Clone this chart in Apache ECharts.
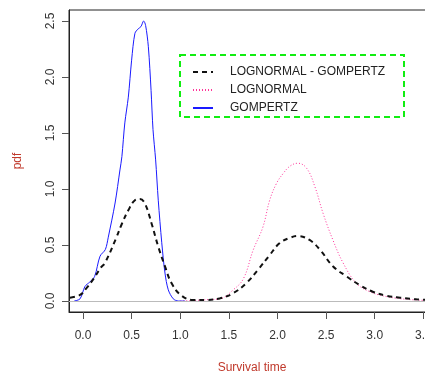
<!DOCTYPE html>
<html>
<head>
<meta charset="utf-8">
<script src="https://cdn.jsdelivr.net/npm/echarts@6/dist/echarts.min.js"></script>
<style>
  html, body { margin: 0; padding: 0; background: #fff; }
  #chart { width: 425px; height: 373px; }
</style>
</head>
<body>
<div id="chart"></div>
<script>
// Density estimates of survival time
const seriesNames = ['LOGNORMAL - GOMPERTZ', 'LOGNORMAL', 'GOMPERTZ'];

const mixX = [-0.134, -0.03, 0.04, 0.11, 0.185, 0.226, 0.34, 0.40, 0.466, 0.534, 0.586, 0.637, 0.706, 0.774, 0.843, 0.91, 1.01, 1.13, 1.27, 1.41, 1.545, 1.68, 1.80, 1.92, 2.02, 2.13, 2.21, 2.33, 2.44, 2.57, 2.71, 2.85, 2.98, 3.12, 3.26, 3.43, 3.60];
const mixPdf = [0.03, 0.054, 0.12, 0.20, 0.30, 0.34, 0.56, 0.69, 0.81, 0.90, 0.91, 0.87, 0.69, 0.485, 0.31, 0.16, 0.05, 0.01, 0.01, 0.025, 0.07, 0.16, 0.28, 0.41, 0.515, 0.565, 0.58, 0.545, 0.455, 0.31, 0.22, 0.14, 0.083, 0.047, 0.03, 0.015, 0.008];

const lognormX = [1.0, 1.1, 1.2, 1.3, 1.41, 1.545, 1.65, 1.75, 1.85, 1.92, 1.99, 2.06, 2.13, 2.21, 2.30, 2.385, 2.47, 2.57, 2.675, 2.81, 2.95, 3.12, 3.33, 3.55];
const lognormPdf = [0, 0.003, 0.008, 0.013, 0.02, 0.10, 0.20, 0.455, 0.66, 0.90, 1.05, 1.14, 1.205, 1.23, 1.185, 1.02, 0.78, 0.545, 0.34, 0.16, 0.083, 0.04, 0.015, 0.005];

const gompX = [-0.09, -0.03, 0.02, 0.07, 0.12, 0.175, 0.23, 0.26, 0.33, 0.38, 0.40, 0.43, 0.466, 0.50, 0.534, 0.568, 0.596, 0.624, 0.644, 0.672, 0.70, 0.72, 0.747, 0.774, 0.81, 0.843, 0.877, 0.928, 0.98, 1.05];
const gompPdf = [0, 0.02, 0.13, 0.17, 0.22, 0.40, 0.46, 0.57, 0.875, 1.17, 1.29, 1.59, 1.82, 2.15, 2.39, 2.43, 2.45, 2.50, 2.46, 2.27, 1.88, 1.53, 1.26, 0.90, 0.52, 0.25, 0.10, 0.02, 0.0, 0.0];

const xTicks = [0, 0.5, 1, 1.5, 2, 2.5, 3, 3.5];
const yTicks = [0, 0.5, 1, 1.5, 2, 2.5];

const zip = (xs, ys) => xs.map((x, i) => [x, ys[i]]);

const chart = echarts.init(document.getElementById('chart'), null, { renderer: 'canvas' });
const font = 'Liberation Sans, Arial, sans-serif';

chart.setOption({
  animation: false,
  backgroundColor: '#ffffff',
  grid: {
    left: 69, top: 10, right: -10, bottom: 61,
    outerBoundsMode: 'none', containLabel: false,
    show: true, borderColor: '#222', borderWidth: 1, backgroundColor: 'transparent'
  },
  xAxis: {
    type: 'value', min: -0.144, max: 3.62,
    name: 'Survival time', nameLocation: 'middle', nameGap: 50,
    nameTextStyle: { color: '#c0392b', fontSize: 12, fontFamily: font },
    splitLine: { show: false },
    axisLine: { show: true, onZero: false, lineStyle: { color: '#222' } },
    axisTick: { show: true, length: 7, customValues: xTicks, lineStyle: { color: '#555' } },
    axisLabel: { customValues: xTicks, margin: 18, color: '#333', fontSize: 12, fontFamily: font,
      formatter: v => v.toFixed(1) }
  },
  yAxis: {
    type: 'value', min: -0.098, max: 2.598,
    name: 'pdf', nameLocation: 'middle', nameGap: 45,
    nameTextStyle: { color: '#c0392b', fontSize: 12, fontFamily: font },
    splitLine: { show: false },
    axisLine: { show: true, onZero: false, lineStyle: { color: '#222' } },
    axisTick: { show: true, length: 7, customValues: yTicks, lineStyle: { color: '#555' } },
    axisLabel: { customValues: yTicks, rotate: 90, margin: 12, color: '#333', fontSize: 12, fontFamily: font,
      formatter: v => v.toFixed(1) }
  },
  legend: {
    orient: 'vertical', left: 187, top: 61, itemWidth: 20, itemHeight: 10, itemGap: 6,
    data: seriesNames,
    itemStyle: { opacity: 0 },
    textStyle: { color: '#222', fontSize: 12, fontFamily: font, padding: [0, 0, 0, 12] }
  },
  graphic: [{
    type: 'rect', shape: { x: 180, y: 55, width: 224, height: 62 },
    style: { fill: 'none', stroke: '#11ee11', lineWidth: 2, lineDash: [6, 4] }, z: 100
  }],
  series: [
    {
      name: seriesNames[0], type: 'line', data: zip(mixX, mixPdf), smooth: 0.4,
      showSymbol: false, symbol: 'none',
      lineStyle: { color: '#111', width: 2, type: [5, 4] }, itemStyle: { color: '#111' },
      markLine: {
        silent: true, symbol: ['none', 'none'], label: { show: false },
        lineStyle: { color: '#bbbbbb', width: 1, type: 'solid' },
        data: [{ yAxis: 0 }]
      },
      z: 4
    },
    {
      name: seriesNames[1], type: 'line', data: zip(lognormX, lognormPdf), smooth: 0.4,
      showSymbol: false, symbol: 'none',
      lineStyle: { color: '#ff3399', width: 1, type: [1, 2] }, itemStyle: { color: '#ff3399' },
      z: 3
    },
    {
      name: seriesNames[2], type: 'line', data: zip(gompX, gompPdf), smooth: 0.3,
      showSymbol: false, symbol: 'none',
      lineStyle: { color: '#1a1aff', width: 1, type: 'solid' }, itemStyle: { color: '#1a1aff' },
      z: 3
    }
  ]
});
</script>
</body>
</html>
